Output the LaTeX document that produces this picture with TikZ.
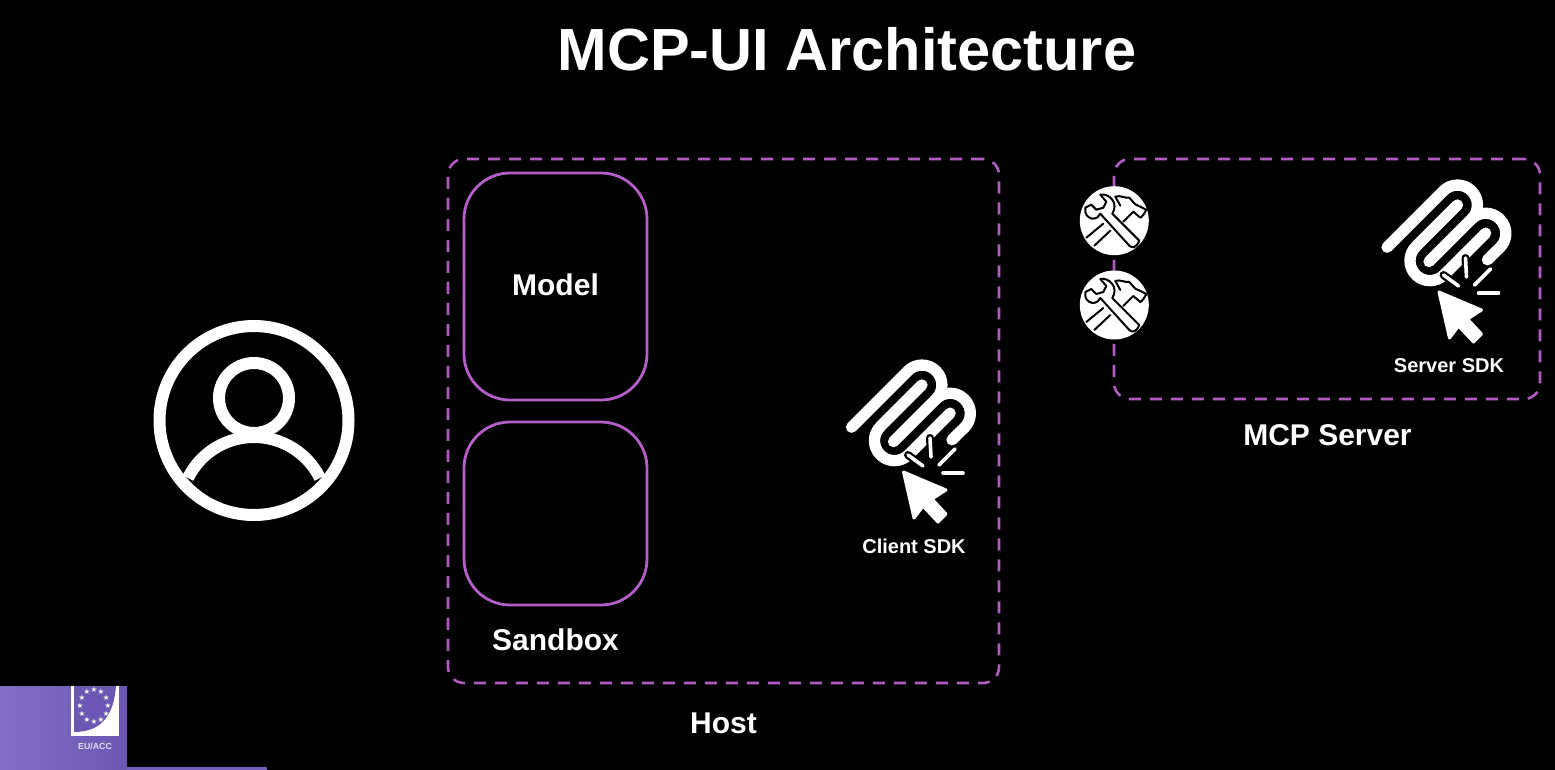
\documentclass[tikz,border=0pt]{standalone}
\usepackage{fontspec}
\setmainfont{Liberation Sans}
\newfontfamily\symfont{DejaVu Sans}
\definecolor{dashpurple}{HTML}{B05CC0}
\definecolor{boxpurple}{HTML}{B45FC8}
\definecolor{thumbA}{RGB}{130,110,198}
\definecolor{thumbB}{RGB}{108,88,180}
\definecolor{thumbC}{RGB}{112,96,188}
\definecolor{eugrey}{RGB}{225,222,240}
\tikzset{
  x=1pt,y=-1pt,
  hostbox/.style={draw=dashpurple,line width=2.6pt,dash pattern=on 12pt off 9pt,rounded corners=16pt},
  sandbox/.style={draw=boxpurple,line width=2.8pt,rounded corners=46pt},
  lbl/.style={text=white,font=\bfseries,inner sep=0pt},
  biglbl/.style={lbl,font=\bfseries\fontsize{30pt}{34pt}\selectfont},
  sdklbl/.style={lbl,font=\bfseries\fontsize{20pt}{24pt}\selectfont},
  logoline/.style={draw=white,line width=11.3pt,line cap=round,line join=round},
  rayline/.style={draw=white,line width=3.6pt,line cap=round},
  rayhalo/.style={draw=black,line width=8pt,line cap=round},
  toolline/.style={draw=black,line width=2pt,line join=round,line cap=round},
  pics/mcplogo/.style={code={
    \begin{scope}[shift={(-77.4,-70.2)},scale=.83]
    \draw[logoline] (18,84.85) -- (85.88,16.97) .. controls (95.25,7.6) and (110.45,7.6) .. (119.82,16.97) .. controls (129.2,26.34) and (129.2,41.54) .. (119.82,50.91) -- (68.56,102.18);
    \draw[logoline] (119.82,50.91) .. controls (129.2,41.54) and (144.39,41.54) .. (153.77,50.91) -- (154.12,51.27) .. controls (163.49,60.64) and (163.49,75.83) .. (154.12,85.21) -- (139,100);
    \draw[logoline] (102.85,33.94) -- (52.65,84.15) .. controls (43.28,93.52) and (43.28,108.71) .. (52.65,118.09) .. controls (62.02,127.46) and (77.22,127.46) .. (86.59,118.09) -- (136.79,67.88);
    \end{scope}
    \draw[rayhalo] (-6,28) -- (9,39);
    \draw[rayhalo] (16,11) -- (17,30);
    \draw[rayhalo] (41,22) -- (25,38);
    \draw[rayline] (-6,28) -- (9,39);
    \draw[rayline] (16,11) -- (17,30);
    \draw[rayline] (41,22) -- (25,38);
    \draw[rayline] (29,46) -- (49,46);
    \path[draw=white,fill=white,line width=3pt,line join=round] (-10.5,45) -- (32,63) -- (18,72) -- (32,87) -- (24,95) -- (9,79) -- (0,91) -- cycle;
  }},
  pics/toolicon/.style={code={
    \fill[white] (0,0) circle (34.5);
    \draw[toolline] (-29,-13) .. controls (-30,-7) and (-27,-3) .. (-22,-2) .. controls (-18,-2) and (-15,-4) .. (-14,-7) -- (15,25) .. controls (18,28) and (22,27) .. (25,20) -- (-2,-7) .. controls (1,-12) and (1,-17) .. (-2,-21) .. controls (-5,-25) and (-10,-27) .. (-14,-26) -- (-8,-19) -- (-11,-13) -- (-18,-11) -- (-23,-16) -- cycle;
    \draw[toolline] (-28,17) -- (-11,3);
    \draw[toolline] (-20,25) -- (-4,10);
    \draw[toolline] (6,-15) -- (1,-24) .. controls (6,-26) and (11,-22) .. (15,-23) .. controls (18,-20) and (21,-15) .. (24,-15) -- (32,-11) .. controls (30,-7) and (28,-4) .. (26,-3) -- (19,-9) -- (9,1);
  }}
}
\begin{document}
\begin{tikzpicture}
\useasboundingbox (0,0) rectangle (1555,770);
\fill[black] (0,0) rectangle (1555,770);
% footer thumbnail
\shade[left color=thumbA,right color=thumbB] (0,686) rectangle (127,770);
\fill[thumbC] (127,767) rectangle (267,770);
\node[lbl,font=\bfseries\fontsize{59.5pt}{66pt}\selectfont] (title) at (847,49) {MCP-UI Architecture};
% user
\draw[white,line width=12pt] (254,420.5) circle (94.5);
\draw[white,line width=12pt] (254,398) circle (35);
\draw[white,line width=12pt] (188,478) arc (206.3:333.7:73.6);
% Host
\node[hostbox,minimum width=551pt,minimum height=524pt,inner sep=0pt] (host) at (723.5,421) {};
\node[sandbox,minimum width=183pt,minimum height=227pt,inner sep=0pt] (model) at (555.5,286.5) {};
\node[sandbox,minimum width=183pt,minimum height=183pt,inner sep=0pt] (empty) at (555.5,513.5) {};
\node[biglbl] (modellabel) at (555.5,285) {Model};
\node[biglbl] (sandboxlabel) at (555.5,640) {Sandbox};
\node[biglbl] (hostlabel) at (723.5,723) {Host};
\pic at (914,427) {mcplogo};
\node[sdklbl] (clientsdk) at (914,546) {Client SDK};
% Server
\node[hostbox,minimum width=426pt,minimum height=240pt,inner sep=0pt] (server) at (1327,279) {};
\pic at (1114.3,220.7) {toolicon};
\pic at (1114.3,305) {toolicon};
\pic at (1449.5,247) {mcplogo};
\node[sdklbl] (serversdk) at (1449,366) {Server SDK};
\node[biglbl] (serverlabel) at (1327.5,435) {MCP Server};
% EU/ACC
\fill[white] (71,686) rectangle (119,736);
\fill[thumbB] (74,686) -- (116,686) .. controls (114,712) and (104,732) .. (74,732) -- cycle;
\foreach \a in {0,30,...,330} \node[text=white,font=\symfont\fontsize{7.5pt}{8pt}\selectfont,inner sep=0pt] (star\a) at ({94+14*cos(\a)},{706+16*sin(\a)}) {★};
\node[lbl,text=eugrey,font=\bfseries\fontsize{8.8pt}{10pt}\selectfont] (eu) at (95,746) {EU/ACC};
\end{tikzpicture}
\end{document}
